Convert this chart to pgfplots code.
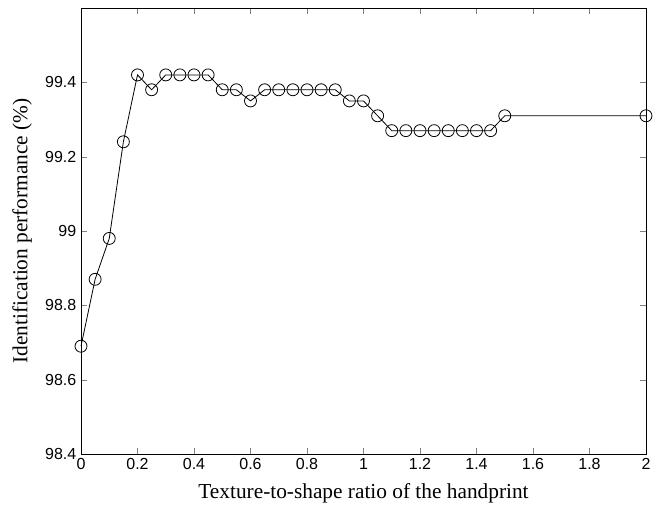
\documentclass[border=0pt]{standalone}
\usepackage{fontspec}
\setmainfont{Liberation Serif}
\newfontfamily\ticksans{Liberation Sans}
\usepackage{pgfplots}
\pgfplotsset{compat=1.18}
\begin{document}
\begin{tikzpicture}
\begin{axis}[
  name=ax,
  scale only axis,
  width=423.75pt, height=334.5pt,
  xmin=0, xmax=2, ymin=98.4, ymax=99.6,
  xtick={0,0.2,...,2.01},
  ytick={98.4,98.6,98.8,99,99.2,99.4},
  tick align=inside,
  major tick length=4.5pt,
  /pgf/number format/assume math mode=true,
  ticklabel style={font=\ticksans\fontsize{12}{14}\selectfont},
  label style={font=\fontsize{16}{18}\selectfont},
  xlabel={Texture-to-shape ratio of the handprint},
  ylabel={Identification performance (\%)},
  xlabel style={at={(axis description cs:0.5,-0.087)}, anchor=center},
  ylabel style={at={(axis description cs:-0.104,0.5)}, anchor=center},
  axis line style={line width=0.6pt},
  clip=false,
]
\addplot[black, line width=0.6pt, mark=o, mark size=4.5pt, mark options={line width=0.6pt}] coordinates {
(0,98.69) (0.05,98.87) (0.1,98.98) (0.15,99.24) (0.2,99.42) (0.25,99.38)
(0.3,99.42) (0.35,99.42) (0.4,99.42) (0.45,99.42) (0.5,99.38) (0.55,99.38)
(0.6,99.35) (0.65,99.38) (0.7,99.38) (0.75,99.38) (0.8,99.38) (0.85,99.38)
(0.9,99.38) (0.95,99.35) (1.0,99.35) (1.05,99.31) (1.1,99.27) (1.15,99.27)
(1.2,99.27) (1.25,99.27) (1.3,99.27) (1.35,99.27) (1.4,99.27) (1.45,99.27)
(1.5,99.31) (2,99.31)
};
\end{axis}
\pgfresetboundingbox
\path[use as bounding box] ([shift={(-60.75pt,-40.5pt)}]ax.south west) rectangle ([shift={(9pt,6pt)}]ax.north east);
\end{tikzpicture}
\end{document}
